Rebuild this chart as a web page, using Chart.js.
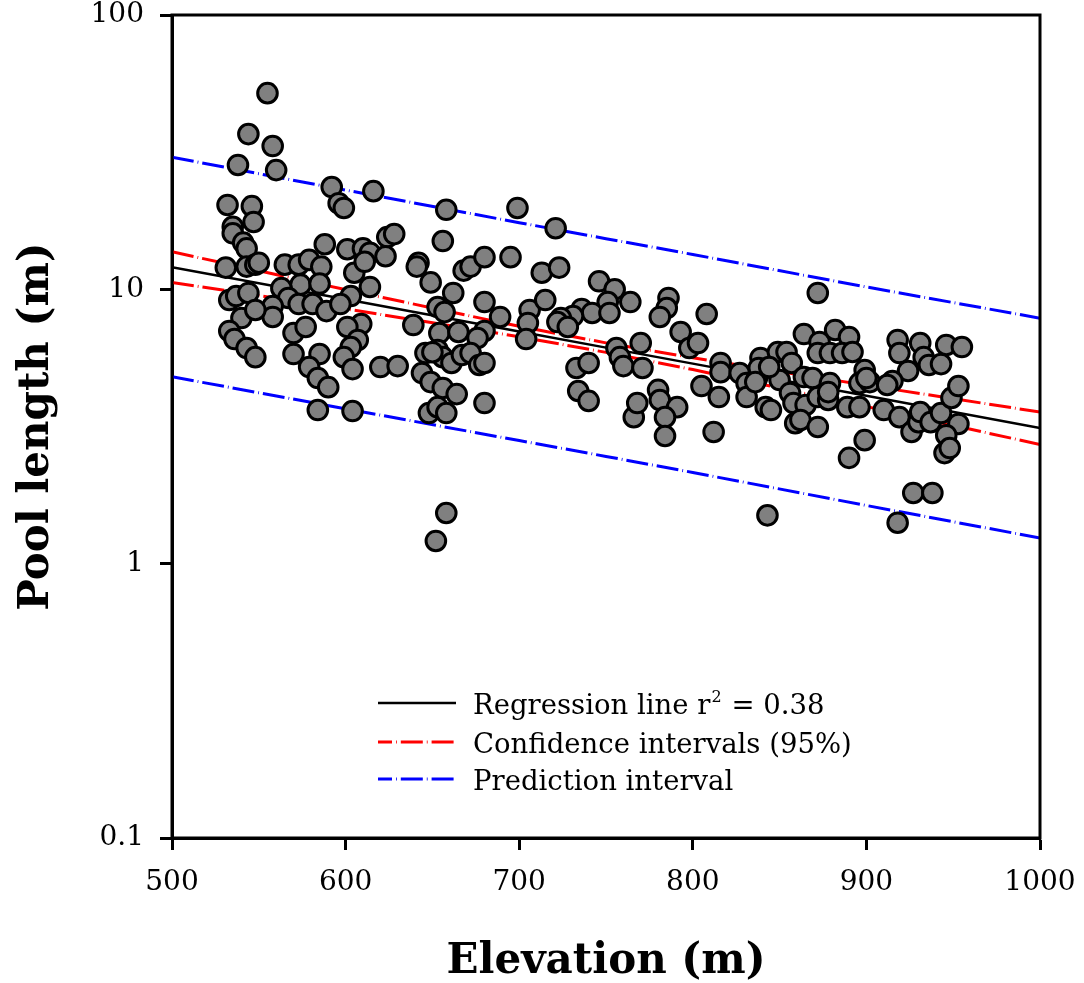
<!DOCTYPE html>
<html>
<head>
<meta charset="utf-8">
<title>Pool length vs elevation</title>
<script src="https://cdn.jsdelivr.net/npm/chart.js@4.4.0/dist/chart.umd.min.js"></script>
<style>
  body { margin: 0; background: #fff; }
</style>
</head>
<body>
<canvas id="scatter" width="1084" height="983"></canvas>
<script>
// one entry per pool: elevation (m) and pool length (m)
var elevation = [
  555, 544, 558, 538, 560, 592, 616, 658, 532, 546, 547, 596, 599, 535, 535, 541, 543, 588, 601, 610,
  614, 624, 628, 623, 642, 641, 656, 668, 672, 531, 543, 548, 550, 565, 573, 579, 586, 605, 611, 614,
  574, 585, 563, 649, 662, 653, 657, 603, 533, 537, 544, 567, 573, 581, 589, 597, 558, 558, 540, 548,
  639, 609, 533, 536, 543, 548, 570, 577, 570, 585, 579, 584, 590, 584, 604, 601, 607, 603, 599, 604,
  620, 630, 646, 644, 649, 656, 664, 648, 653, 658, 654, 665, 653, 656, 661, 667, 658, 652, 650, 699,
  721, 680, 695, 713, 723, 680, 689, 706, 715, 746, 755, 751, 764, 736, 742, 731, 752, 724, 786, 785,
  781, 808, 705, 704, 680, 676, 672, 677, 680, 680, 722, 728, 756, 758, 760, 770, 771, 733, 740, 734,
  740, 766, 768, 780, 781, 791, 784, 784, 793, 798, 803, 805, 815, 812, 816, 816, 827, 831, 837, 839,
  838, 831, 842, 845, 843, 836, 849, 854, 857, 864, 873, 882, 890, 872, 879, 886, 892, 850, 856, 864,
  869, 879, 858, 865, 872, 878, 859, 862, 872, 889, 896, 899, 896, 902, 899, 890, 918, 919, 931, 933,
  936, 943, 946, 955, 924, 915, 912, 910, 919, 926, 930, 931, 937, 943, 953, 949, 953, 946, 945, 948,
  927, 938, 918, 872, 844, 900, 878
];
var poolLength = [
  51.9, 36.8, 33.3, 28.4, 27.2, 23.6, 22.8, 19.5, 20.3, 20.1, 17.6, 20.6, 19.8, 16.9, 16.0, 14.8, 14.1, 14.6, 14.0, 14.1,
  13.6, 15.5, 15.9, 13.2, 12.5, 12.1, 15.0, 11.7, 12.1, 12.0, 12.1, 12.3, 12.5, 12.3, 12.3, 12.8, 12.1, 11.5, 12.6, 10.2,
  10.4, 10.5, 10.1, 10.6, 9.7, 8.62, 8.26, 9.45, 9.14, 9.45, 9.7, 9.3, 8.84, 8.84, 8.33, 8.84, 8.69, 7.93, 7.86, 8.41,
  7.41, 7.47, 7.05, 6.59, 6.11, 5.66, 6.93, 7.29, 5.81, 5.81, 5.21, 4.75, 4.40, 3.63, 3.60, 7.29, 6.54, 6.16, 5.66, 5.12,
  5.21, 5.25, 5.86, 4.95, 4.59, 4.37, 4.15, 3.54, 3.72, 3.54, 6.93, 6.99, 6.01, 5.66, 5.39, 5.76, 1.53, 1.21, 5.9, 19.8,
  16.7, 13.1, 13.1, 11.5, 12.0, 8.99, 7.93, 8.41, 9.14, 10.7, 10.0, 8.99, 8.99, 8.48, 8.20, 7.99, 8.20, 7.86, 9.3, 8.55,
  7.93, 8.13, 7.54, 6.59, 7.05, 6.65, 5.86, 5.30, 5.39, 3.85, 7.60, 7.29, 6.11, 5.66, 5.25, 6.37, 5.17, 5.17, 5.39, 4.26,
  3.92, 3.42, 3.85, 4.30, 3.95, 3.72, 3.42, 2.92, 6.99, 6.11, 6.37, 4.44, 4.05, 3.02, 5.39, 4.99, 4.95, 4.55, 4.75, 5.62,
  5.17, 4.05, 3.72, 3.63, 1.50, 4.59, 5.91, 5.91, 5.39, 6.87, 6.43, 7.11, 6.70, 5.86, 5.86, 5.86, 5.91, 4.67, 4.19, 4.79,
  4.75, 4.55, 3.85, 3.79, 4.05, 3.95, 3.25, 3.34, 3.15, 3.72, 3.72, 5.08, 4.55, 4.59, 2.82, 2.43, 6.54, 5.86, 6.37, 5.66,
  5.30, 5.34, 6.27, 6.16, 5.04, 4.63, 4.48, 3.63, 3.42, 3.02, 3.28, 3.57, 3.28, 3.54, 3.23, 4.02, 4.44, 2.94, 2.53, 2.64,
  1.81, 1.81, 1.41, 9.7, 5.21, 4.75, 4.22
];

// fitted lines, read at these elevations
var lineX = [500, 600, 700, 750, 800, 900, 1000];
var regression = [12.05, 9.20, 7.02, 6.13, 5.36, 4.09, 3.12];
var ciUpper = [13.7, 9.97, 7.33, 6.38, 5.63, 4.47, 3.57];
var ciLower = [10.6, 8.49, 6.72, 5.89, 5.10, 3.74, 2.72];
var piUpper = [30.3, 23.0, 17.5, 15.3, 13.4, 10.2, 7.85];
var piLower = [4.80, 3.67, 2.81, 2.46, 2.15, 1.63, 1.24];

var yTicks = [0.1, 1, 10, 100];
var legendLabels = ['Regression line r', 'Confidence intervals (95%)', 'Prediction interval'];

var dashPattern = [22, 4, 0.8, 4];

function pairs(xs, ys) {
  var out = [];
  for (var i = 0; i < xs.length; i++) out.push({x: xs[i], y: ys[i]});
  return out;
}

function lineSet(ys, color, width, dash) {
  return {
    type: 'line',
    data: pairs(lineX, ys),
    borderColor: color,
    borderWidth: width,
    borderDash: dash,
    pointRadius: 0,
    fill: false,
    tension: 0,
    order: 1
  };
}

// box round the plot plus the legend inside it
var frameAndLegend = {
  id: 'frameAndLegend',
  afterDraw: function(chart) {
    var ctx = chart.ctx, a = chart.chartArea;
    ctx.save();
    ctx.strokeStyle = '#000';
    ctx.lineWidth = 3;
    ctx.setLineDash([]);
    ctx.strokeRect(a.left, a.top, a.right - a.left, a.bottom - a.top);

    var rows = [
      {y: 703, color: '#000000', width: 2.5, dash: []},
      {y: 742, color: '#ff0000', width: 3, dash: dashPattern},
      {y: 779, color: '#0000ff', width: 3, dash: dashPattern}
    ];
    ctx.font = '27.5px "DejaVu Serif"';
    ctx.fillStyle = '#000';
    ctx.textBaseline = 'alphabetic';
    ctx.textAlign = 'left';
    for (var i = 0; i < rows.length; i++) {
      var r = rows[i];
      ctx.beginPath();
      ctx.strokeStyle = r.color;
      ctx.lineWidth = r.width;
      ctx.setLineDash(r.dash);
      ctx.lineDashOffset = 8;
      ctx.moveTo(378, r.y);
      ctx.lineTo(456, r.y);
      ctx.stroke();
      ctx.setLineDash([]);
      var tx = 473, ty = r.y + 11;
      ctx.fillText(legendLabels[i], tx, ty);
      if (i === 0) {
        var w = ctx.measureText(legendLabels[0]).width;
        ctx.font = '16px "DejaVu Serif"';
        ctx.fillText('2', tx + w + 1, ty - 12);
        var w2 = ctx.measureText('2').width;
        ctx.font = '27.5px "DejaVu Serif"';
        ctx.fillText(' = 0.38', tx + w + w2 + 2, ty);
      }
    }
    ctx.restore();
  }
};

Chart.defaults.font.family = '"DejaVu Serif"';
Chart.defaults.color = '#000';

new Chart(document.getElementById('scatter'), {
  type: 'scatter',
  data: {
    datasets: [
      {
        label: 'Pools',
        data: pairs(elevation, poolLength),
        backgroundColor: '#808080',
        borderColor: '#000000',
        borderWidth: 3,
        pointRadius: 9.8,
        order: 0
      },
      lineSet(regression, '#000000', 2.5, []),
      lineSet(ciUpper, '#ff0000', 3, dashPattern),
      lineSet(ciLower, '#ff0000', 3, dashPattern),
      lineSet(piUpper, '#0000ff', 3, dashPattern),
      lineSet(piLower, '#0000ff', 3, dashPattern)
    ]
  },
  options: {
    responsive: false,
    animation: false,
    events: [],
    layout: { padding: { left: 0, right: 44, top: 15, bottom: 0 } },
    plugins: {
      legend: { display: false },
      tooltip: { enabled: false }
    },
    scales: {
      x: {
        type: 'linear',
        min: 500,
        max: 1000,
        afterFit: function(scale) {
          scale.height = 145;
          scale.paddingLeft = 0;
          scale.paddingRight = 0;
        },
        ticks: {
          stepSize: 100,
          padding: 16,
          font: { size: 28 },
          callback: function(v) { return String(v); }
        },
        grid: { drawOnChartArea: false, drawTicks: true, tickLength: 12, tickWidth: 3, tickColor: '#000' },
        border: { display: true, color: '#000', width: 3 },
        title: {
          display: true,
          text: 'Elevation (m)',
          font: { size: 42, weight: 'bold' },
          padding: { top: 0, bottom: -4 }
        }
      },
      y: {
        type: 'logarithmic',
        min: 0.1,
        max: 100,
        afterFit: function(scale) {
          scale.width = 172;
          scale.paddingTop = 0;
          scale.paddingBottom = 0;
        },
        afterBuildTicks: function(scale) {
          scale.ticks = yTicks.map(function(v) { return {value: v, major: true}; });
        },
        ticks: {
          autoSkip: false,
          padding: 16,
          font: { size: 28 },
          callback: function(v) { return String(v); }
        },
        grid: { drawOnChartArea: false, drawTicks: true, tickLength: 12, tickWidth: 3, tickColor: '#000' },
        border: { display: true, color: '#000', width: 3 },
        title: {
          display: true,
          text: 'Pool length (m)',
          font: { size: 42, weight: 'bold' },
          padding: { top: 12, bottom: 0 }
        }
      }
    }
  },
  plugins: [frameAndLegend]
});
</script>
</body>
</html>
